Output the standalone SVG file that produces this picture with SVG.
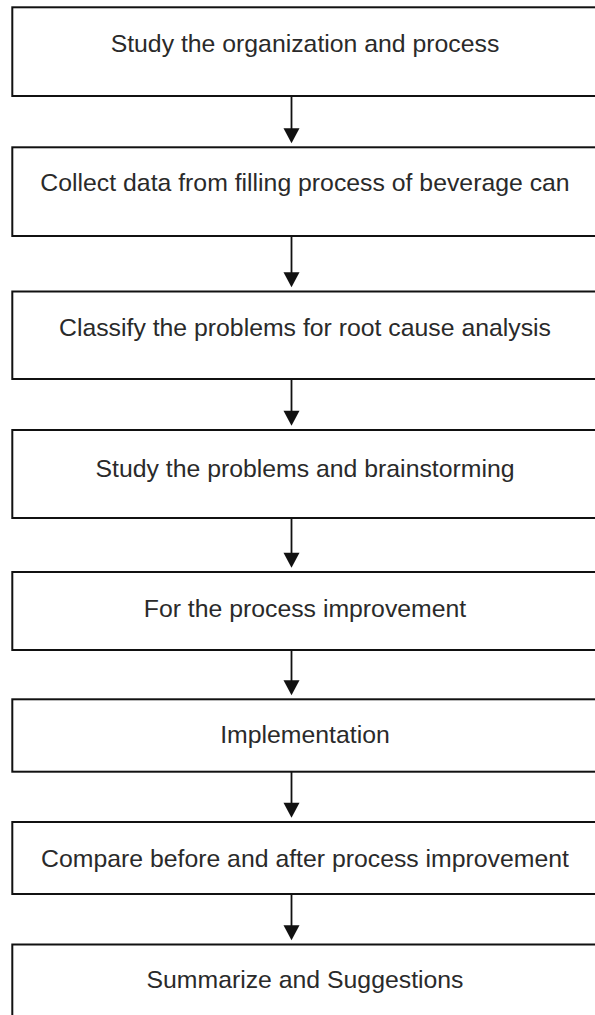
<svg xmlns="http://www.w3.org/2000/svg" width="595" height="1015" viewBox="0 0 595 1015">
<style>
.box{fill:#fff;stroke:#111;stroke-width:2}
.lbl{font-family:"Liberation Sans",Arial,sans-serif;font-size:24.8px;fill:#2a2a2a;text-anchor:middle}
.conn{stroke:#111;stroke-width:1.8;fill:none}
</style>
<defs>
<marker id="ah" markerUnits="userSpaceOnUse" markerWidth="16" markerHeight="16" viewBox="0 0 16 15" refX="8" refY="15" orient="auto-start-reverse">
<path d="M0,0 L16,0 L8,15 Z" fill="#111" transform="rotate(0)"/>
</marker>
</defs>
<rect width="595" height="1015" fill="#fff"/>
<g id="n1"><rect class="box" x="12.3" y="7.3" width="600" height="88.7"/><text class="lbl" x="305" y="52">Study the organization and process</text></g>
<g id="n2"><rect class="box" x="12.3" y="147.3" width="600" height="88.7"/><text class="lbl" x="305" y="191">Collect data from filling process of beverage can</text></g>
<g id="n3"><rect class="box" x="12.3" y="291.5" width="600" height="87.5"/><text class="lbl" x="305" y="336">Classify the problems for root cause analysis</text></g>
<g id="n4"><rect class="box" x="12.3" y="430" width="600" height="88"/><text class="lbl" x="305" y="477">Study the problems and brainstorming</text></g>
<g id="n5"><rect class="box" x="12.3" y="572" width="600" height="78"/><text class="lbl" x="305" y="616.5">For the process improvement</text></g>
<g id="n6"><rect class="box" x="12.3" y="699.3" width="600" height="72.4"/><text class="lbl" x="305" y="743">Implementation</text></g>
<g id="n7"><rect class="box" x="12.3" y="822" width="600" height="72"/><text class="lbl" x="305" y="867">Compare before and after process improvement</text></g>
<g id="n8"><rect class="box" x="12.3" y="944.5" width="600" height="80"/><text class="lbl" x="305" y="987.5">Summarize and Suggestions</text></g>
<g id="connectors">
<path d="M0,0 L16,0 L8,15 Z" fill="#111" transform="translate(283.5,128.3)"/>
<line class="conn" x1="291.5" y1="96" x2="291.5" y2="132"/>
<line class="conn" x1="291.5" y1="236" x2="291.5" y2="276"/>
<path d="M0,0 L16,0 L8,15 Z" fill="#111" transform="translate(283.5,272.3)"/>
<line class="conn" x1="291.5" y1="379" x2="291.5" y2="414"/>
<path d="M0,0 L16,0 L8,15 Z" fill="#111" transform="translate(283.5,410.8)"/>
<line class="conn" x1="291.5" y1="518" x2="291.5" y2="556"/>
<path d="M0,0 L16,0 L8,15 Z" fill="#111" transform="translate(283.5,552.8)"/>
<line class="conn" x1="291.5" y1="650" x2="291.5" y2="684"/>
<path d="M0,0 L16,0 L8,15 Z" fill="#111" transform="translate(283.5,680.3)"/>
<line class="conn" x1="291.5" y1="772" x2="291.5" y2="806"/>
<path d="M0,0 L16,0 L8,15 Z" fill="#111" transform="translate(283.5,802.8)"/>
<line class="conn" x1="291.5" y1="894" x2="291.5" y2="928"/>
<path d="M0,0 L16,0 L8,15 Z" fill="#111" transform="translate(283.5,925.3)"/>
</g>
</svg>
